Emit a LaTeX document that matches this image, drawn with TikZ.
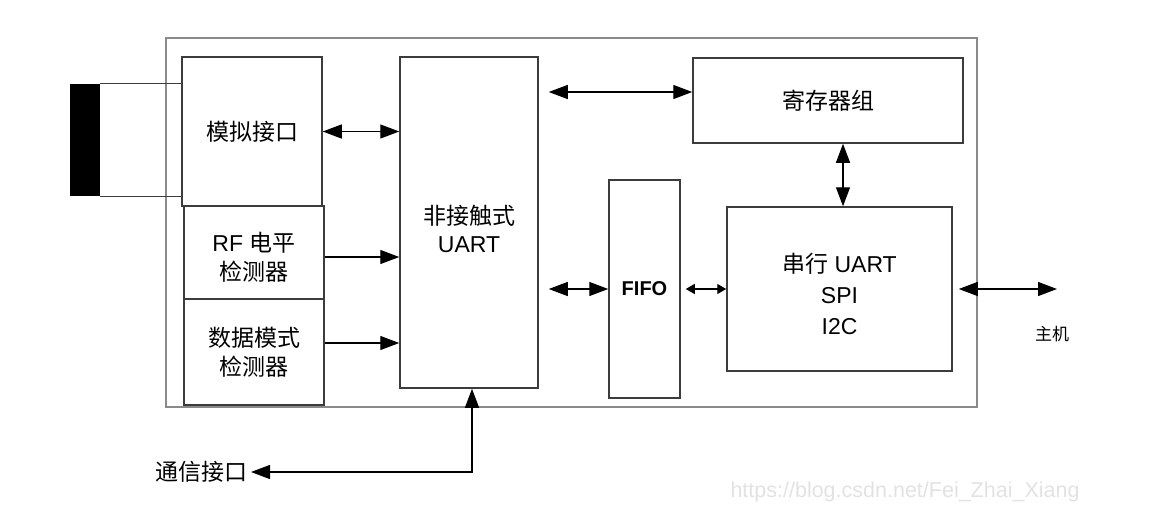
\documentclass[tikz,border=0pt]{standalone}
\usepackage{fontspec}
\setmainfont{Liberation Sans}
\newfontfamily\cjk{Noto Sans CJK SC}
\usepackage{xcolor}
\usetikzlibrary{arrows.meta, calc}

\definecolor{framegray}{HTML}{8A8A8A}
\definecolor{boxgray}{HTML}{3C3C3C}
\definecolor{markgray}{HTML}{E2E2E2}

\newcommand{\boxfont}{\fontsize{23}{29}\selectfont}

\begin{document}
\begin{tikzpicture}[
    x=1pt, y=-1pt,
    box/.style  = {rectangle, draw=boxgray, line width=1.5pt, inner sep=0pt,
                   align=center, font=\boxfont},
    txt/.style  = {align=center, font=\boxfont, inner sep=0pt},
    arr/.style  = {{Triangle[length=19pt, width=14pt]}-{Triangle[length=19pt, width=14pt]},
                   line width=1.3pt},
    sarr/.style = {-{Triangle[length=19pt, width=14pt]}, line width=1.3pt},
    tarr/.style = {{Triangle[length=9pt, width=10pt]}-{Triangle[length=9pt, width=10pt]},
                   line width=1.3pt}
]
  \useasboundingbox (0,0) rectangle (1149,523);

  % outer chip frame
  \node[rectangle, draw=framegray, line width=1.8pt, minimum width=811pt,
        minimum height=369pt, inner sep=0pt] (chip) at (571.5,222.5) {};

  % blocks
  \node[box, minimum width=140pt, minimum height=149pt] (analog) at (252,131.5)
       {{\cjk 模拟接口}};
  \node[box, minimum width=140pt, minimum height=93pt]  (rf)     at (254,252.5) {};
  \node[box, minimum width=140pt, minimum height=106pt] (mode)   at (254,352)
       {{\cjk 数据模式}\\{\cjk 检测器}};
  \node[box, minimum width=138pt, minimum height=331pt] (uart)   at (469,222.5) {};
  \node[box, minimum width=270pt, minimum height=85pt]  (reg)    at (828,100.5)
       {{\cjk 寄存器组}};
  \node[box, minimum width=71pt, minimum height=218pt,
        font=\fontsize{20}{24}\selectfont\bfseries] (fifo) at (644.5,289) {FIFO};
  \node[box, minimum width=225pt, minimum height=164pt] (serial) at (839.5,289) {};

  % texts set a little low in their blocks
  \node[txt] (rftxt)     at ([yshift=-5pt]rf.center)     {RF {\cjk 电平}\\{\cjk 检测器}};
  \node[txt] (uarttxt)   at ([yshift=-6.5pt]uart.center) {{\cjk 非接触式}\\[-1pt]UART};
  \node[txt] (serialtxt) at ([yshift=-5pt]serial.center) {{\cjk 串行} UART\\[2pt]SPI\\[2pt]I2C};

  % antenna plug
  \node[rectangle, fill=black, minimum width=30pt, minimum height=112pt,
        inner sep=0pt] (plug) at (85,140) {};
  \draw[boxgray, line width=1.3pt] (plug.north east) -- (plug.north east -| analog.west);
  \draw[boxgray, line width=1.3pt] (plug.south east) -- (plug.south east -| analog.west);

  % external labels
  \node[font=\cjk\fontsize{17}{20}\selectfont] (host) at (1052,334) {主机};
  \node[font=\cjk\fontsize{23}{26}\selectfont, anchor=east] (comm) at (251,472) {通信接口};
  \coordinate (hostend) at (1057,289);
  \coordinate (regin) at ([yshift=8.5pt]reg.west);

  % connectors
  \draw[arr]  (analog.east) -- (analog.east -| uart.west);
  \draw[sarr] ([yshift=-4.5pt]rf.east) -- ([yshift=-4.5pt]rf.east -| uart.west);
  \draw[sarr] ([yshift=9pt]mode.east) -- ([yshift=9pt]mode.east -| uart.west);
  \draw[arr]  ([xshift=10pt]uart.east |- regin) -- (regin);
  \draw[arr]  ([xshift=10pt]uart.east |- fifo.west) -- (fifo.west);
  \draw[tarr] ([xshift=5pt]fifo.east) -- (serial.west);
  \draw[arr]  ([xshift=3.5pt]serial.north) -- ([xshift=3.5pt]serial.north |- reg.south);
  \draw[arr]  ([xshift=6pt]serial.east) -- (hostend);
  \draw[arr]  ([xshift=3pt]uart.south) |- (comm.east);

  % watermark
  \node[text=markgray, font=\fontsize{21.5}{24}\selectfont] (mark) at (905,492)
       {https://blog.csdn.net/Fei\_Zhai\_Xiang};
\end{tikzpicture}
\end{document}
